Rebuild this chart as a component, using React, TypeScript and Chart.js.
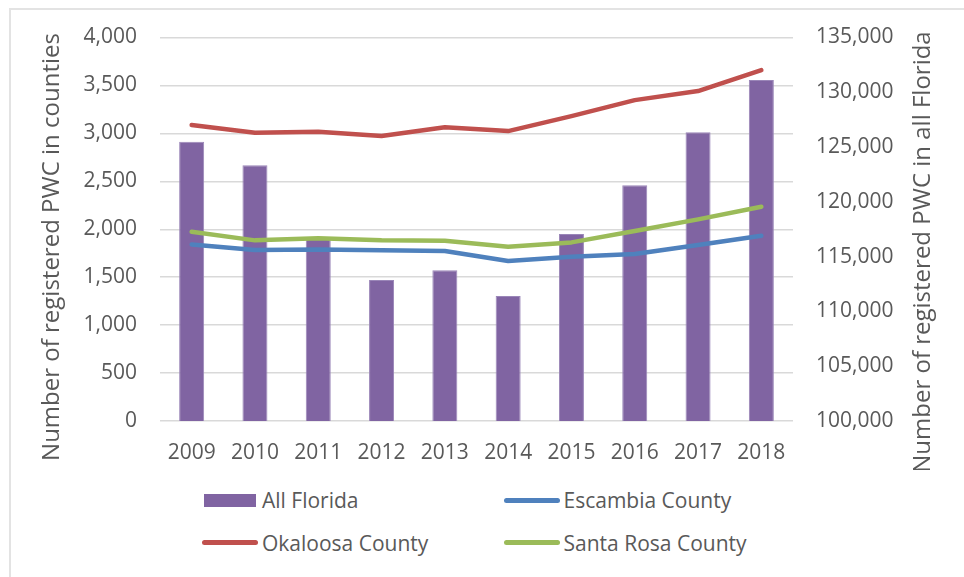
import React, { useEffect, useRef } from "react";
import { Chart, registerables } from "chart.js";

Chart.register(...registerables);

const years = ["2009", "2010", "2011", "2012", "2013", "2014", "2015", "2016", "2017", "2018"];
const allFlorida = [125490, 123340, 116750, 112870, 113750, 111410, 117070, 121510, 126350, 131120];
const escambia = [1842, 1783, 1790, 1780, 1773, 1668, 1713, 1741, 1835, 1932];
const okaloosa = [3087, 3006, 3017, 2972, 3063, 3024, 3180, 3347, 3441, 3660];
const santaRosa = [1974, 1884, 1905, 1884, 1880, 1818, 1863, 1981, 2103, 2235];

const leftAxis = { min: 0, max: 4000, step: 500 };
const rightAxis = { min: 100000, max: 135000, step: 5000 };

const leftTitle = "Number of registered PWC in counties";
const rightTitle = "Number of registered PWC in all Florida";

const seriesNames = ["All Florida", "Escambia County", "Okaloosa County", "Santa Rosa County"];

const PURPLE = "#8064A2";
const BLUE = "#4F81BD";
const RED = "#C0504D";
const GREEN = "#9BBB59";
const TEXT = "#595959";
const GRID = "#D9D9D9";
const FONT = '"Open Sans", "Noto Sans", sans-serif';

const fmt = (v: number | string) => Number(v).toLocaleString("en-US");

const titlePlugin = {
  id: "rotatedTitles",
  afterDraw(chart: any) {
    const ctx = chart.ctx as CanvasRenderingContext2D;
    const draw = (text: string, x: number, y: number) => {
      ctx.save();
      ctx.translate(x, y);
      ctx.rotate(-Math.PI / 2);
      ctx.fillText(text, 0, 0);
      ctx.restore();
    };
    ctx.save();
    ctx.fillStyle = TEXT;
    ctx.font = `24px ${FONT}`;
    ctx.textAlign = "center";
    ctx.textBaseline = "alphabetic";
    draw(leftTitle, 59, 247);
    draw(rightTitle, 930, 252);
    ctx.restore();
  },
};

export default function App() {
  const ref = useRef<HTMLCanvasElement | null>(null);

  useEffect(() => {
    if (!ref.current) return;
    const chart = new Chart(ref.current, {
      type: "bar",
      data: {
        labels: years,
        datasets: [
          {
            type: "bar",
            label: seriesNames[0],
            data: allFlorida,
            yAxisID: "y1",
            backgroundColor: PURPLE,
            borderColor: "#9A86B8",
            borderWidth: 1,
            barPercentage: 0.395,
            categoryPercentage: 1,
            order: 10,
          },
          {
            type: "line",
            label: seriesNames[1],
            data: escambia,
            yAxisID: "y",
            borderColor: BLUE,
            backgroundColor: BLUE,
            borderWidth: 4.5,
            pointRadius: 0,
            borderCapStyle: "round",
            borderJoinStyle: "round",
            tension: 0,
            order: 3,
          },
          {
            type: "line",
            label: seriesNames[2],
            data: okaloosa,
            yAxisID: "y",
            borderColor: RED,
            backgroundColor: RED,
            borderWidth: 4.5,
            pointRadius: 0,
            borderCapStyle: "round",
            borderJoinStyle: "round",
            tension: 0,
            order: 2,
          },
          {
            type: "line",
            label: seriesNames[3],
            data: santaRosa,
            yAxisID: "y",
            borderColor: GREEN,
            backgroundColor: GREEN,
            borderWidth: 4.5,
            pointRadius: 0,
            borderCapStyle: "round",
            borderJoinStyle: "round",
            tension: 0,
            order: 1,
          },
        ],
      } as any,
      options: {
        animation: false,
        responsive: false,
        maintainAspectRatio: false,
        layout: { padding: { top: 37.5, left: 0, right: 0, bottom: 0 } },
        plugins: {
          legend: { display: false },
          tooltip: { enabled: false },
          title: { display: false },
        },
        scales: {
          x: {
            grid: { display: false, drawTicks: false },
            border: { display: false },
            ticks: {
              color: TEXT,
              font: { family: FONT, size: 21 },
              padding: 19,
              maxRotation: 0,
            },
            afterFit: (s: any) => {
              s.height = 49;
            },
          },
          y: {
            position: "left",
            min: leftAxis.min,
            max: leftAxis.max,
            grid: { color: GRID, lineWidth: 1.5, drawTicks: false },
            border: { display: false },
            ticks: {
              stepSize: leftAxis.step,
              color: TEXT,
              font: { family: FONT, size: 21 },
              padding: 23,
              callback: (v: any) => fmt(v),
            },
            afterFit: (s: any) => {
              s.width = 160;
            },
          },
          y1: {
            position: "right",
            min: rightAxis.min,
            max: rightAxis.max,
            grid: { display: false, drawTicks: false },
            border: { display: false },
            ticks: {
              stepSize: rightAxis.step,
              color: TEXT,
              font: { family: FONT, size: 21 },
              padding: 23,
              callback: (v: any) => fmt(v),
            },
            afterFit: (s: any) => {
              s.width = 171;
            },
          },
        },
      } as any,
      plugins: [titlePlugin],
    });
    return () => chart.destroy();
  }, []);

  const legendText: React.CSSProperties = {
    position: "absolute",
    fontFamily: FONT,
    fontSize: 21,
    color: TEXT,
    lineHeight: "30px",
    height: 30,
    whiteSpace: "nowrap",
  };
  const lineSym = (color: string, left: number, cy: number): React.CSSProperties => ({
    position: "absolute",
    left,
    top: cy - 2.5,
    width: 56,
    height: 5,
    borderRadius: 2.5,
    background: color,
  });

  return (
    <div
      style={{
        position: "fixed",
        left: 0,
        top: 0,
        width: 964,
        height: 577,
        overflow: "hidden",
        background: "#fff",
      }}
    >
      <div
        style={{
          position: "absolute",
          left: 9,
          top: 8,
          width: 2000,
          height: 2000,
          borderLeft: "2px solid #E3E3E3",
          borderTop: "2px solid #E3E3E3",
        }}
      />
      <canvas
        ref={ref}
        width={964}
        height={470}
        style={{ position: "absolute", left: 0, top: 0, width: 964, height: 470 }}
      />
      <div style={{ position: "absolute", left: 204, top: 493.5, width: 52, height: 13.5, background: PURPLE }} />
      <div style={{ ...legendText, left: 262, top: 485 }}>{seriesNames[0]}</div>
      <div style={lineSym(BLUE, 504, 500)} />
      <div style={{ ...legendText, left: 563.5, top: 485 }}>{seriesNames[1]}</div>
      <div style={lineSym(RED, 202, 542.5)} />
      <div style={{ ...legendText, left: 262, top: 527.5 }}>{seriesNames[2]}</div>
      <div style={lineSym(GREEN, 504, 542.5)} />
      <div style={{ ...legendText, left: 563.5, top: 527.5 }}>{seriesNames[3]}</div>
    </div>
  );
}
